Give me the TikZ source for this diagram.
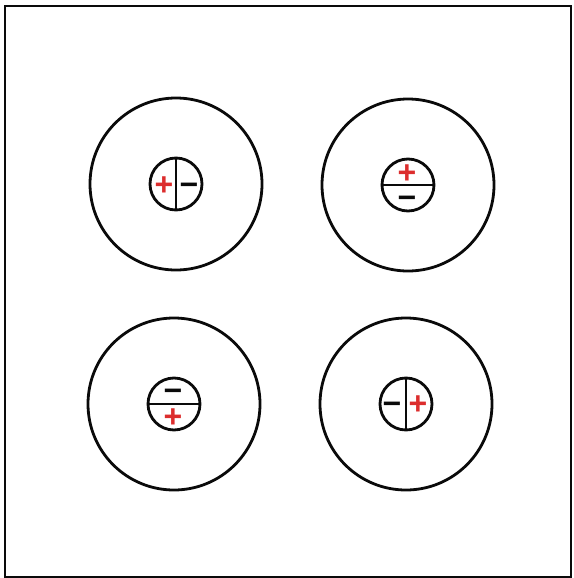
\documentclass[tikz,border=0pt]{standalone}
\usepackage{fontspec}
\setmainfont{Liberation Sans}
\usepackage{xcolor}
\usetikzlibrary{shapes.geometric}
\definecolor{chargered}{RGB}{220,45,45}
\definecolor{inkblack}{RGB}{10,10,10}
\tikzset{
  ring/.style={circle, draw=inkblack, line width=2.8pt,
    minimum size=172pt, inner sep=0pt},
  cell/.style={circle, draw=inkblack, line width=2.8pt,
    minimum size=52pt, inner sep=0pt},
  split/.style={line width=2.8pt, color=inkblack},
  sign/.style={inner sep=0pt, anchor=base, yshift=-11.2pt,
    font=\fontsize{32}{32}\selectfont\bfseries},
  poscharge/.style={sign, text=chargered},
  negcharge/.style={sign, text=inkblack},
  pageframe/.style={line width=1.8pt, draw=inkblack}
}
\begin{document}
\begin{tikzpicture}[x=1pt, y=-1pt]

%% ── page frame ──────────────────────────────────────────────────────
\useasboundingbox (0,0) rectangle (573,578);
\draw[pageframe] (5,6) rectangle (571,577);

%% ── outer rings ─────────────────────────────────────────────────────
\node[ring] (r1) at (176,184) {};
\node[ring] (r2) at (408,185) {};
\node[ring] (r3) at (174,404) {};
\node[ring] (r4) at (406,404) {};

%% ── inner cells ─────────────────────────────────────────────────────
\node[cell] (c1) at (176,184) {};
\node[cell] (c2) at (408,185) {};
\node[cell] (c3) at (174,404) {};
\node[cell] (c4) at (406,404) {};

%% ── dividers ────────────────────────────────────────────────────────
\draw[split] (c1.north) -- (c1.south);
\draw[split] (c2.west)  -- (c2.east);
\draw[split] (c3.west)  -- (c3.east);
\draw[split] (c4.north) -- (c4.south);

%% ── charges ─────────────────────────────────────────────────────────
\node[poscharge] (p1) at (164,184) {+};
\node[negcharge] (n1) at (189,184) {−};
\node[poscharge] (p2) at (407,172) {+};
\node[negcharge] (n2) at (407,197) {−};
\node[negcharge] (n3) at (173,390) {−};
\node[poscharge] (p3) at (173,416) {+};
\node[negcharge] (n4) at (392,403) {−};
\node[poscharge] (p4) at (418,403) {+};

\end{tikzpicture}
\end{document}
